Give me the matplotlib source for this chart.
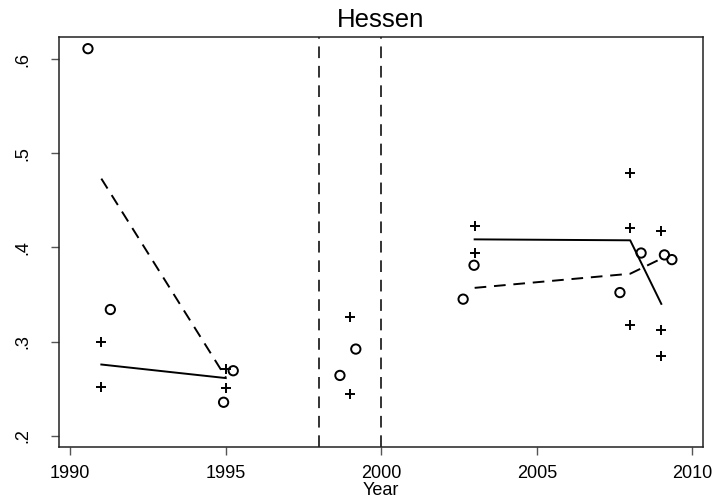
import matplotlib.pyplot as plt

plt.rcParams['font.family'] = ['Liberation Sans', 'DejaVu Sans']

# observed shares, circles and pluses
circle_year = [1990.57, 1991.29, 1994.93, 1995.24, 1998.67, 1999.18,
               2002.63, 2002.98, 2007.67, 2008.35, 2009.10, 2009.34]
circle_val = [0.611, 0.334, 0.2355, 0.269, 0.264, 0.292,
              0.345, 0.381, 0.352, 0.394, 0.392, 0.387]

plus_year = [1991, 1991, 1995, 1995, 1999, 1999,
             2003, 2003, 2008, 2008, 2008, 2009, 2009, 2009]
plus_val = [0.299, 0.252, 0.271, 0.251, 0.326, 0.244,
            0.4226, 0.394, 0.479, 0.421, 0.318, 0.417, 0.312, 0.285]

# fitted means, before and after the break
solid_year = [[1991, 1995], [2003, 2008, 2009]]
solid_val = [[0.2756, 0.2612], [0.4085, 0.4075, 0.340]]
dash_year = [[1991, 1995], [2003, 2008, 2009]]
dash_val = [[0.473, 0.262], [0.357, 0.372, 0.388]]

break_years = [1998, 2000]

fig = plt.figure(figsize=(7.18, 4.98), dpi=100)
ax = fig.add_axes([0.0822, 0.1024, 0.8969, 0.8233])

for xs, ys in zip(solid_year, solid_val):
    ax.plot(xs, ys, color='black', lw=1.4)
for xs, ys in zip(dash_year, dash_val):
    ax.plot(xs, ys, color='black', lw=1.4, dashes=(6, 4))

ax.scatter(circle_year, circle_val, s=45, facecolors='none',
           edgecolors='black', linewidths=1.4, zorder=3)
ax.scatter(plus_year, plus_val, s=55, marker='+', color='black',
           linewidths=1.4, zorder=3)

for yr in break_years:
    ax.axvline(yr, color='#333333', lw=1.4, dashes=(6, 4))

ax.set_xlim(1989.64, 2010.34)
ax.set_ylim(0.188, 0.6234)
ax.set_xticks([1990, 1995, 2000, 2005, 2010])
ax.set_yticks([0.2, 0.3, 0.4, 0.5, 0.6])
ax.set_yticklabels(['.2', '.3', '.4', '.5', '.6'], rotation=90, va='center')
ax.tick_params(labelsize=13, length=6, width=1, color='#555555')
ax.tick_params(axis='x', pad=7)
ax.tick_params(axis='y', pad=14)
for sp in ax.spines.values():
    sp.set_linewidth(1.1)
    sp.set_color('#222222')

ax.set_title('Hessen', fontsize=18.5, pad=7)
ax.set_xlabel('Year', fontsize=13, labelpad=0)

fig.savefig('out.png', dpi=100)
